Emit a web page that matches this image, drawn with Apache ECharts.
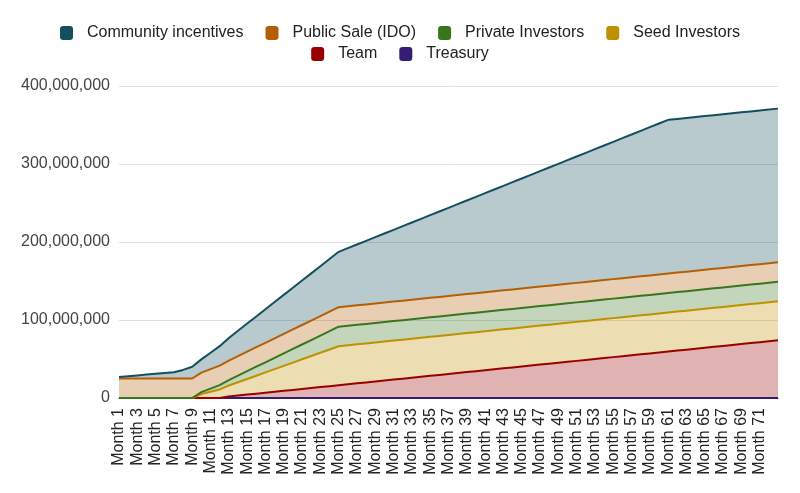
<!DOCTYPE html>
<html>
<head>
<meta charset="utf-8">
<script src="https://cdn.jsdelivr.net/npm/echarts@6/dist/echarts.min.js"></script>
<style>
html,body{margin:0;padding:0;background:#fff;}
#chart{width:800px;height:493px;}
</style>
</head>
<body>
<div id="chart"></div>
<script>
// Categories
const months = [
"Month 1","Month 2","Month 3","Month 4","Month 5","Month 6","Month 7","Month 8","Month 9","Month 10",
"Month 11","Month 12","Month 13","Month 14","Month 15","Month 16","Month 17","Month 18","Month 19","Month 20",
"Month 21","Month 22","Month 23","Month 24","Month 25","Month 26","Month 27","Month 28","Month 29","Month 30",
"Month 31","Month 32","Month 33","Month 34","Month 35","Month 36","Month 37","Month 38","Month 39","Month 40",
"Month 41","Month 42","Month 43","Month 44","Month 45","Month 46","Month 47","Month 48","Month 49","Month 50",
"Month 51","Month 52","Month 53","Month 54","Month 55","Month 56","Month 57","Month 58","Month 59","Month 60",
"Month 61","Month 62","Month 63","Month 64","Month 65","Month 66","Month 67","Month 68","Month 69","Month 70",
"Month 71","Month 72","Month 73"];

// Values in millions of tokens (stacked: treasury at bottom, community at top)
const treasury = [
0,0,0,0,0,0,0,0,0,0, 0,0,0,0,0,0,0,0,0,0, 0,0,0,0,0,0,0,0,0,0,
0,0,0,0,0,0,0,0,0,0, 0,0,0,0,0,0,0,0,0,0, 0,0,0,0,0,0,0,0,0,0,
0,0,0,0,0,0,0,0,0,0, 0,0,0];

const team = [
0,0,0,0,0,0,0,0,0,0, 0,0,
2.0,3.2,4.4,5.6,6.8,8.0,9.2,10.4,11.6,12.8,14.0,15.2,16.4,
17.6,18.8,20.0,21.2,22.4,23.6,24.8,26.0,27.2,28.4,
29.6,30.8,32.0,33.2,34.4,35.6,36.8,38.0,39.2,40.4,
41.6,42.8,44.0,45.2,46.4,47.6,48.8,50.0,51.2,52.4,
53.6,54.8,56.0,57.2,58.4,59.6,
60.8,62.0,63.2,64.4,65.6,66.8,68.0,69.2,70.4,71.6,72.8,74.0];

const seedInvestors = [
0,0,0,0,0,0,0,0,0,
5,8,11,14,17,20,23,26,29,32,35,38,41,44,47,50,
50,50,50,50,50,50,50,50,50,50,50,50,50,50,50,50,
50,50,50,50,50,50,50,50,50,50,50,50,50,50,50,50,
50,50,50,50,50,50,50,50,50,50,50,50,50,50,50,50];

const privateInvestors = [
0,0,0,0,0,0,0,0,0,
2.5,4,5.5,7,8.5,10,11.5,13,14.5,16,17.5,19,20.5,22,23.5,25,
25,25,25,25,25,25,25,25,25,25,25,25,25,25,25,25,
25,25,25,25,25,25,25,25,25,25,25,25,25,25,25,25,
25,25,25,25,25,25,25,25,25,25,25,25,25,25,25,25];

const publicSale = [
25,25,25,25,25,25,25,25,25,25, 25,25,25,25,25,25,25,25,25,25,
25,25,25,25,25,25,25,25,25,25, 25,25,25,25,25,25,25,25,25,25,
25,25,25,25,25,25,25,25,25,25, 25,25,25,25,25,25,25,25,25,25,
25,25,25,25,25,25,25,25,25,25, 25,25,25];

const community = [
2,3,4,5,6,7,8,11,15,
17,21,25,29,
32.5,36,39.5,43,46.5,50,53.5,57,60.5,64,67.5,71,
74.5,78,81.5,85,88.5,92,95.5,99,102.5,106,
109.5,113,116.5,120,123.5,127,130.5,134,137.5,141,
144.5,148,151.5,155,158.5,162,165.5,169,172.5,176,
179.5,183,186.5,190,193.5,197,
197,197,197,197,197,197,197,197,197,197,197,197];

const yTicks = [0, 100, 200, 300, 400];

const names = {
  community: "Community incentives",
  publicSale: "Public Sale (IDO)",
  privateInv: "Private Investors",
  seed: "Seed Investors",
  team: "Team",
  treasury: "Treasury"
};

const colors = {
  community: "#134f5c",
  publicSale: "#b45f06",
  privateInv: "#38761d",
  seed: "#bf9000",
  team: "#990000",
  treasury: "#351c75"
};

function mk(name, data, color) {
  return {
    name: name,
    type: "line",
    stack: "total",
    data: data.map(v => v * 1e6),
    color: color,
    showSymbol: false,
    symbol: "none",
    lineStyle: { width: 2, color: color },
    itemStyle: { color: color },
    areaStyle: { color: color, opacity: 0.3 },
    emphasis: { disabled: true }
  };
}

const legendCommon = {
  left: "center",
  icon: "roundRect",
  itemWidth: 13,
  itemHeight: 14,
  itemGap: 22,
  selectedMode: false,
  textStyle: { fontFamily: "Liberation Sans, Arial, sans-serif", fontSize: 16, color: "#222", padding: [0, 0, 0, 9] }
};

const chart = echarts.init(document.getElementById("chart"), null, { renderer: "canvas" });
chart.setOption({
  animation: false,
  backgroundColor: "#fff",
  legend: [
    Object.assign({}, legendCommon, { top: 20, data: [names.community, names.publicSale, names.privateInv, names.seed] }),
    Object.assign({}, legendCommon, { top: 41, data: [names.team, names.treasury] })
  ],
  grid: { left: 119, right: 22, top: 86, bottom: 95, containLabel: false },
  xAxis: {
    type: "category",
    data: months,
    boundaryGap: false,
    axisTick: { show: false },
    axisLine: { show: true, lineStyle: { color: "#333", width: 1 } },
    axisLabel: {
      rotate: 90,
      interval: function (i) { return i % 2 === 0 && i < months.length - 1; },
      fontFamily: "Liberation Sans, Arial, sans-serif",
      fontSize: 16,
      color: "#222",
      margin: 10
    },
    splitLine: { show: false }
  },
  yAxis: {
    type: "value",
    min: yTicks[0] * 1e6,
    max: yTicks[yTicks.length - 1] * 1e6,
    interval: (yTicks[1] - yTicks[0]) * 1e6,
    axisLine: { show: false },
    axisTick: { show: false },
    axisLabel: {
      fontFamily: "Liberation Sans, Arial, sans-serif",
      fontSize: 16,
      color: "#444",
      margin: 9,
      padding: [5, 0, 0, 0],
      formatter: function (v) { return v.toLocaleString("en-US"); }
    },
    splitLine: { lineStyle: { color: "#e0e0e0", width: 1 } }
  },
  series: [
    mk(names.treasury, treasury, colors.treasury),
    mk(names.team, team, colors.team),
    mk(names.seed, seedInvestors, colors.seed),
    mk(names.privateInv, privateInvestors, colors.privateInv),
    mk(names.publicSale, publicSale, colors.publicSale),
    mk(names.community, community, colors.community)
  ]
});
</script>
</body>
</html>
